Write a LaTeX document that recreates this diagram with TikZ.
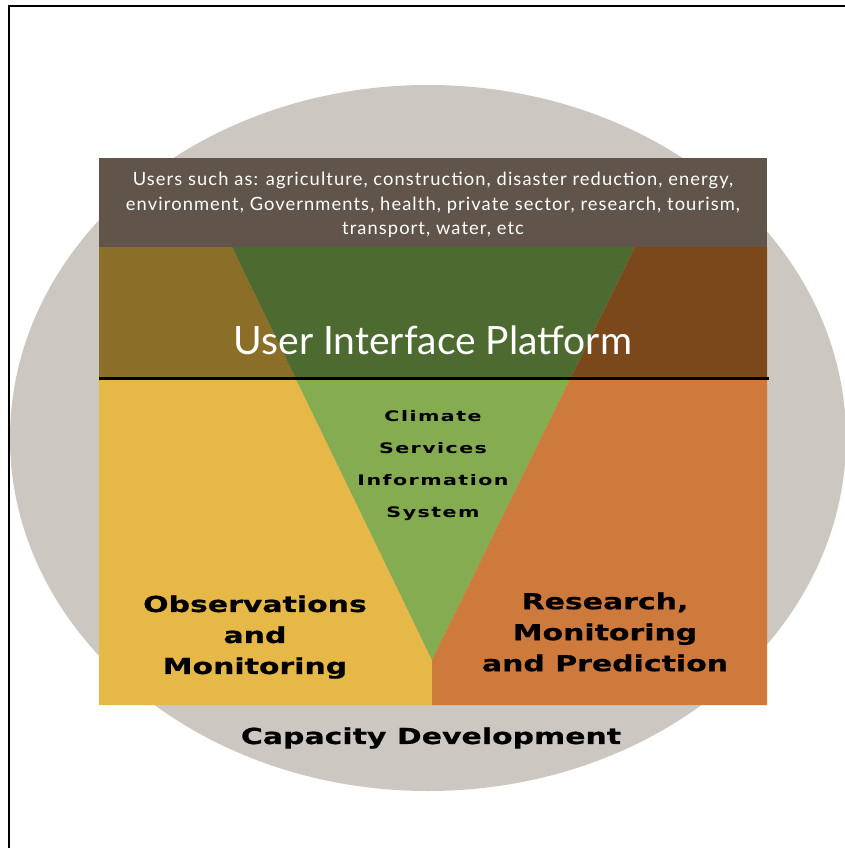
\documentclass[tikz,border=0pt]{standalone}
\usepackage{fontspec}
\setmainfont{DejaVu Sans}
\newfontfamily\gillfont{Lato}
\newfontfamily\widefont[FakeStretch=1.42]{DejaVu Sans}
\newfontfamily\pillarfont[FakeStretch=1.36,FakeBold=0.6]{DejaVu Sans}
\usetikzlibrary{calc}
\definecolor{ringgray}{RGB}{204,199,192}
\definecolor{userbrown}{RGB}{97,85,75}
\definecolor{darkolive}{RGB}{139,111,40}
\definecolor{darkgreen}{RGB}{77,106,48}
\definecolor{darkrust}{RGB}{122,72,26}
\definecolor{obsyellow}{RGB}{229,184,72}
\definecolor{csisgreen}{RGB}{134,172,82}
\definecolor{resorange}{RGB}{205,122,60}

\begin{document}
\begin{tikzpicture}[x=1pt,y=-1pt,
 userstxt/.style={text=white,align=center,font=\gillfont\addfontfeatures{LetterSpace=6}\fontsize{18.3}{24.5}\selectfont},
 uiptxt/.style={text=white,font=\gillfont\fontsize{39}{45}\selectfont},
 csistxt/.style={align=center,font=\widefont\bfseries\addfontfeatures{LetterSpace=10}\fontsize{14.5}{32}\selectfont},
 pillartxt/.style={align=center,font=\pillarfont\bfseries\fontsize{22}{31}\selectfont},
 ]
 \useasboundingbox (0,0) rectangle (845,848);
 % frame
 \draw[line width=1.5pt] (845,6) -- (9,6) -- (9,848);
 % capacity development ring
 \fill[ringgray] (428,438) ellipse [x radius=418, y radius=353];
 % corners of the V
 \coordinate (vl) at (232,247);
 \coordinate (vr) at (635,247);
 \coordinate (vb) at (432,660);
 \coordinate (ml) at ($(vl)!0.317!(vb)$);
 \coordinate (mr) at ($(vr)!0.317!(vb)$);
 % users band
 \fill[userbrown] (99,158) rectangle (767,247);
 % user interface platform band
 \fill[darkolive] (99,247) -- (vl) -- (ml) -- (99,378) -- cycle;
 \fill[darkgreen] (vl) -- (vr) -- (mr) -- (ml) -- cycle;
 \fill[darkrust] (vr) -- (767,247) -- (767,378) -- (mr) -- cycle;
 % lower part
 \fill[obsyellow] (99,378) -- (ml) -- (vb) -- (432,705) -- (99,705) -- cycle;
 \fill[csisgreen] (ml) -- (mr) -- (vb) -- cycle;
 \fill[resorange] (mr) -- (767,378) -- (767,705) -- (432,705) -- (vb) -- cycle;
 \draw[line width=3pt] (99,378) -- (769,378);
 % texts
 \node[userstxt] (users) at (433,205) {Users such as: agriculture, construction, disaster reduction, energy,\\
  environment, Governments, health, private sector, research, tourism,\\ transport, water, etc};
 \node[uiptxt] (uip) at (433,340) {User Interface Platform};
 \node[csistxt] (csis) at (433,466) {Climate\\ Services\\ Information\\ System};
 \node[pillartxt] (obs) at (255,637) {Observations\\ and\\ Monitoring};
 \node[pillartxt] (res) at (605,632) {Research,\\ Monitoring\\ and Prediction};
 \node[pillartxt] (capdev) at (431,738) {Capacity Development};
\end{tikzpicture}
\end{document}
